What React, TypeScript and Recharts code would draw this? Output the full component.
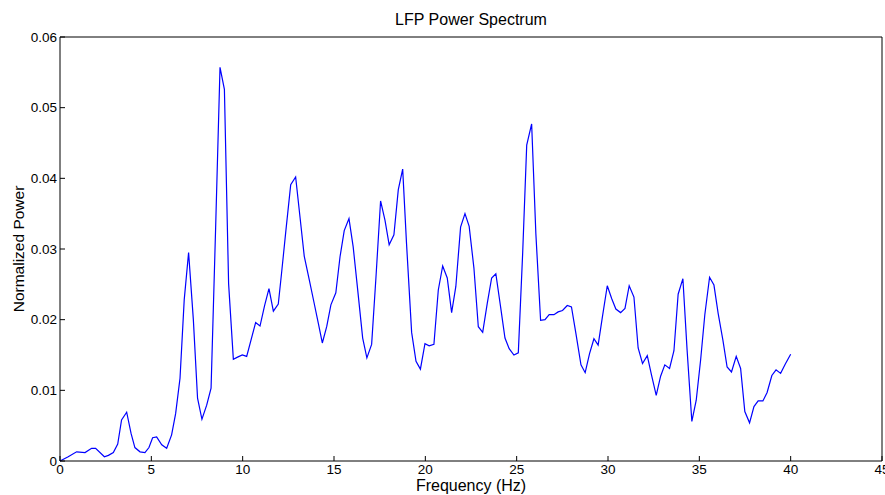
import { LineChart, Line, XAxis, YAxis, Label } from "recharts";

// frequency (Hz) and normalized power
const freqs = [
  0, 0.45, 0.91, 1.37, 1.73, 1.95, 2.43, 2.65, 2.92, 3.16, 3.37, 3.65, 3.89, 4.1, 4.38,
  4.65, 4.87, 5.07, 5.29, 5.57, 5.84, 6.11, 6.33, 6.57, 6.8, 7.04, 7.3, 7.53, 7.77, 8.03,
  8.27, 8.52, 8.76, 9.0, 9.23, 9.49, 9.72, 9.98, 10.22, 10.71, 10.95, 11.2, 11.44, 11.68,
  11.95, 12.13, 12.37, 12.63, 12.9, 13.14, 13.37, 13.65, 13.9, 14.14, 14.36, 14.6, 14.83,
  15.1, 15.33, 15.56, 15.82, 16.05, 16.29, 16.57, 16.8, 17.06, 17.3, 17.55, 17.79, 18.02,
  18.28, 18.52, 18.76, 18.97, 19.25, 19.49, 19.73, 19.98, 20.21, 20.47, 20.71, 20.95, 21.2,
  21.44, 21.67, 21.93, 22.17, 22.4, 22.66, 22.9, 23.14, 23.39, 23.63, 23.86, 24.12, 24.36,
  24.59, 24.85, 25.09, 25.33, 25.55, 25.82, 26.05, 26.31, 26.55, 26.78, 27.04, 27.27, 27.51,
  27.77, 28.0, 28.24, 28.52, 28.75, 28.99, 29.23, 29.46, 29.7, 29.96, 30.2, 30.43, 30.69,
  30.93, 31.16, 31.42, 31.65, 31.89, 32.15, 32.38, 32.64, 32.88, 33.11, 33.37, 33.61, 33.84,
  34.1, 34.33, 34.59, 34.83, 35.07, 35.3, 35.56, 35.8, 36.03, 36.29, 36.52, 36.76, 37.02,
  37.26, 37.49, 37.75, 37.99, 38.22, 38.48, 38.71, 38.97, 39.2, 39.45, 39.7, 40.0,
];

const power = [
  0, 0.0006, 0.0013, 0.0012, 0.0018, 0.0018, 0.0006, 0.0008, 0.0012, 0.0024, 0.0058, 0.0069,
  0.0039, 0.0019, 0.0013, 0.0012, 0.0019, 0.0033, 0.0034, 0.0023, 0.0018, 0.0037, 0.0067,
  0.0117, 0.0228, 0.0295, 0.02, 0.0089, 0.0059, 0.0079, 0.0103, 0.033, 0.0557, 0.0526, 0.0251,
  0.0144, 0.0147, 0.015, 0.0148, 0.0196, 0.0191, 0.022, 0.0244, 0.0212, 0.0222, 0.0266, 0.0327,
  0.0391, 0.0402, 0.0345, 0.029, 0.0256, 0.0225, 0.0195, 0.0167, 0.019, 0.0221, 0.0238, 0.0289,
  0.0326, 0.0343, 0.0303, 0.0244, 0.0174, 0.0146, 0.0165, 0.0261, 0.0368, 0.0341, 0.0306,
  0.032, 0.0384, 0.0413, 0.0308, 0.0182, 0.0141, 0.013, 0.0166, 0.0163, 0.0165, 0.0242, 0.0276,
  0.0259, 0.021, 0.0247, 0.0331, 0.035, 0.0332, 0.0273, 0.019, 0.0182, 0.0223, 0.0259, 0.0265,
  0.0218, 0.0174, 0.0159, 0.015, 0.0153, 0.0295, 0.0447, 0.0477, 0.0322, 0.0199, 0.02, 0.0207,
  0.0207, 0.0211, 0.0213, 0.022, 0.0218, 0.0181, 0.0136, 0.0125, 0.0152, 0.0173, 0.0164,
  0.0205, 0.0248, 0.023, 0.0215, 0.021, 0.0216, 0.0248, 0.0232, 0.016, 0.0138, 0.0149, 0.0122,
  0.0093, 0.012, 0.0136, 0.0131, 0.0156, 0.0236, 0.0258, 0.0157, 0.0056, 0.0086, 0.0143,
  0.0207, 0.026, 0.0249, 0.0209, 0.0171, 0.0133, 0.0126, 0.0148, 0.0131, 0.007, 0.0054,
  0.0077, 0.0085, 0.0085, 0.0097, 0.0121, 0.0129, 0.0124, 0.0137, 0.0151,
];

const xTicks = [0, 5, 10, 15, 20, 25, 30, 35, 40, 45];
const yTicks = [0, 0.01, 0.02, 0.03, 0.04, 0.05, 0.06];

const data = freqs.map((f, i) => ({ f, p: power[i] }));

const FONT = '"Liberation Sans", Arial, Helvetica, sans-serif';
const tickStyle = { fill: "#000", fontSize: 13.5, fontFamily: FONT };

const TitleLabel = (props: any) => {
  const { viewBox } = props;
  const cx = viewBox.x + viewBox.width / 2;
  return (
    <text x={cx} y={25} textAnchor="middle" fontSize={16} fontFamily={FONT} fill="#000">
      LFP Power Spectrum
    </text>
  );
};

const YTitle = (props: any) => {
  const { viewBox } = props;
  const cx = 18;
  const cy = viewBox.y + viewBox.height / 2;
  return (
    <text
      x={cx}
      y={cy}
      transform={`rotate(-90, ${cx}, ${cy})`}
      textAnchor="middle"
      dominantBaseline="central"
      fontSize={15.5}
      fontFamily={FONT}
      fill="#000"
    >
      Normalized Power
    </text>
  );
};

const XTitle = (props: any) => {
  const { viewBox } = props;
  const cx = viewBox.x + viewBox.width / 2;
  return (
    <text x={cx} y={491} textAnchor="middle" fontSize={16} fontFamily={FONT} fill="#000">
      Frequency (Hz)
    </text>
  );
};

export default function App() {
  return (
    <div style={{ position: "absolute", left: 0, top: 0, background: "#fff" }}>
      <LineChart
        width={885}
        height={495}
        data={data}
        margin={{ top: 36, right: 2, bottom: 0, left: 0 }}
      >
        <XAxis
          dataKey="f"
          type="number"
          domain={[0, 45]}
          ticks={xTicks}
          height={34}
          tickSize={-5}
          tickMargin={8}
          tick={tickStyle}
          stroke="#000"
          interval={0}
        >
          <Label content={<XTitle />} />
        </XAxis>
        <XAxis
          xAxisId="top"
          orientation="top"
          type="number"
          domain={[0, 45]}
          ticks={xTicks}
          height={1}
          tickSize={-5}
          tick={false}
          stroke="#000"
          interval={0}
        >
          <Label content={<TitleLabel />} />
        </XAxis>
        <YAxis
          type="number"
          domain={[0, 0.06]}
          ticks={yTicks}
          width={60}
          tickSize={-5}
          tickMargin={8}
          tick={tickStyle}
          stroke="#000"
          interval={0}
        >
          <Label content={<YTitle />} />
        </YAxis>
        <YAxis
          yAxisId="right"
          orientation="right"
          type="number"
          domain={[0, 0.06]}
          ticks={yTicks}
          width={1}
          tickSize={-5}
          tick={false}
          stroke="#000"
          interval={0}
        />
        <Line
          type="linear"
          dataKey="p"
          stroke="#0000ff"
          strokeWidth={1.2}
          dot={false}
          isAnimationActive={false}
        />
      </LineChart>
    </div>
  );
}
